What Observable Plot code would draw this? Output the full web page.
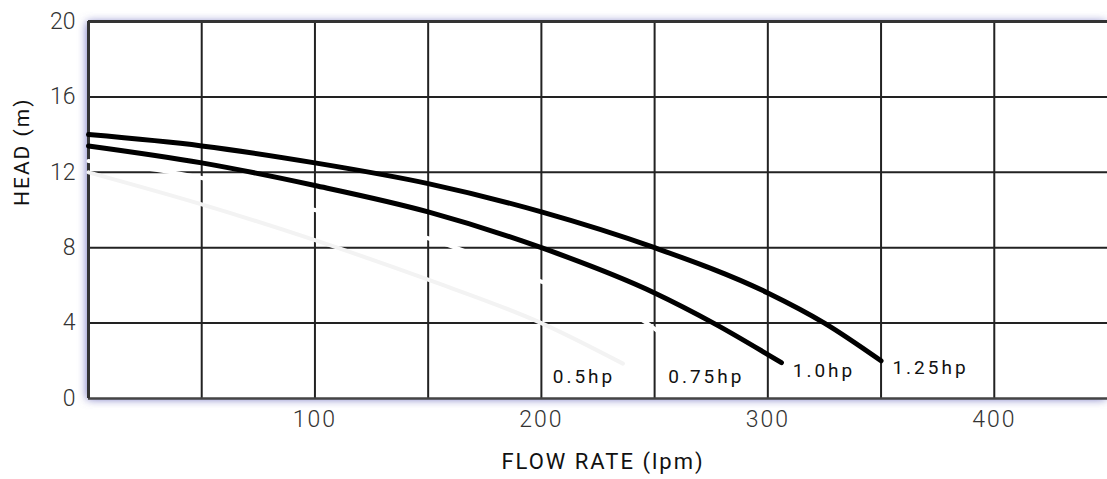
<!DOCTYPE html>
<html>
<head>
<meta charset="utf-8">
<script src="https://cdn.jsdelivr.net/npm/d3@7"></script>
<script src="https://cdn.jsdelivr.net/npm/@observablehq/plot@0.6"></script>
<style>
  html, body { margin: 0; padding: 0; background: #fff; }
  svg { display: block; }
</style>
</head>
<body>
<div id="chart"></div>
<script>
// Pump curves: flow rate (lpm) vs head (m)
const flow05  = [0, 50, 100, 150, 200, 236];
const head05  = [12.0, 10.3, 8.4, 6.3, 4.0, 1.85];
const flow075 = [0, 50, 100, 150, 200, 250, 264];
const head075 = [12.6, 11.7, 10.0, 8.5, 6.2, 3.7, 2.2];
const flow10  = [0, 50, 100, 150, 200, 250, 276, 306];
const head10  = [13.4, 12.5, 11.3, 9.9, 8.0, 5.6, 4.0, 1.9];
const flow125 = [0, 50, 100, 150, 200, 250, 300, 325, 350];
const head125 = [14.0, 13.4, 12.5, 11.4, 9.9, 8.0, 5.6, 4.0, 2.0];

const labelNames = ["0.5hp", "0.75hp", "1.0hp", "1.25hp"];
const labelFlow  = [205, 256, 311, 355];
const labelHead  = [1.15, 1.15, 1.45, 1.6];

const xTicks = [100, 200, 300, 400];
const yTicks = [0, 4, 8, 12, 16, 20];
const xGrid = [50, 100, 150, 200, 250, 300, 350, 400];
const yGrid = [4, 8, 12, 16];
const xTitle = "FLOW RATE (lpm)";
const yTitle = "HEAD (m)";

const toRows = (xs, ys) => xs.map((x, i) => ({x, y: ys[i]}));
const s05 = toRows(flow05, head05);
const s075 = toRows(flow075, head075);
const s10 = toRows(flow10, head10);
const s125 = toRows(flow125, head125);
const labels = labelNames.map((t, i) => ({t, x: labelFlow[i], y: labelHead[i]}));

const font = "Roboto, 'Noto Sans', sans-serif";

const plot = Plot.plot({
  width: 1107,
  height: 479,
  marginLeft: 88,
  marginRight: 0,
  marginTop: 21,
  marginBottom: 81,
  style: {fontFamily: font, background: "#fff"},
  x: {domain: [0, 450], axis: null},
  y: {domain: [0, 20], axis: null},
  marks: [
    Plot.frame({fill: "#7070c0", stroke: "none"}),
    Plot.frame({fill: "white", stroke: "none"}),
    Plot.ruleX(xGrid, {stroke: "#222", strokeWidth: 2}),
    Plot.ruleY(yGrid, {stroke: "#222", strokeWidth: 2}),
    Plot.ruleY([20], {stroke: "#333", strokeWidth: 3}),
    Plot.ruleY([0], {stroke: "#444", strokeWidth: 2.5}),
    Plot.ruleX([0], {stroke: "#333", strokeWidth: 3}),
    Plot.line(s075, {x: "x", y: "y", stroke: "#ffffff", strokeWidth: 4, curve: "monotone-x"}),
    Plot.line(s05, {x: "x", y: "y", stroke: "#f3f3f3", strokeWidth: 4, curve: "monotone-x"}),
    Plot.line(s10, {x: "x", y: "y", stroke: "#000", strokeWidth: 5, curve: "monotone-x"}),
    Plot.line(s125, {x: "x", y: "y", stroke: "#000", strokeWidth: 5, curve: "monotone-x"}),
    Plot.text(labels, {x: "x", y: "y", text: "t", textAnchor: "start", fontSize: 19, fill: "#111"}),
    Plot.text(xTicks, {x: d => d, frameAnchor: "bottom", dy: 28, fontSize: 23, fill: "#333", text: d => String(d)}),
    Plot.text(yTicks, {y: d => d, frameAnchor: "left", dx: -13, textAnchor: "end", fontSize: 23, fill: "#333", text: d => String(d)}),
    Plot.text([xTitle], {frameAnchor: "bottom", dy: 70, dx: 5, fontSize: 22, fill: "#111"}),
    Plot.text([yTitle], {frameAnchor: "left", dx: -66, dy: -4, rotate: -90, fontSize: 21, fill: "#111"})
  ]
});

const sel = d3.select(plot);
// soft bluish glow around the plot frame (blurred copy of the first frame)
const defs = sel.insert("defs", ":first-child");
const f = defs.append("filter").attr("id", "frameGlow")
  .attr("x", "-5%").attr("y", "-20%").attr("width", "110%").attr("height", "140%");
f.append("feGaussianBlur").attr("stdDeviation", 5);
const frames = sel.selectAll('[aria-label="frame"]').nodes();
if (frames.length) {
  d3.select(frames[0]).attr("filter", "url(#frameGlow)").attr("transform", "translate(-1,1)");
}
const tickSet = new Set([...xTicks, ...yTicks].map(String));
const xTickSet = new Set(xTicks.map(String));
const labelSet = new Set(labelNames);
sel.selectAll("text").each(function() {
  const t = this.textContent;
  const s = d3.select(this);
  if (labelSet.has(t)) s.style("letter-spacing", "3px");
  else if (t === xTitle || t === yTitle) s.style("letter-spacing", "2px");
  else if (tickSet.has(t)) {
    s.style("font-weight", "300");
    if (xTickSet.has(t) && this.getAttribute("text-anchor") !== "end") s.style("letter-spacing", "2px");
  }
});

document.getElementById("chart").appendChild(plot);
</script>
</body>
</html>
